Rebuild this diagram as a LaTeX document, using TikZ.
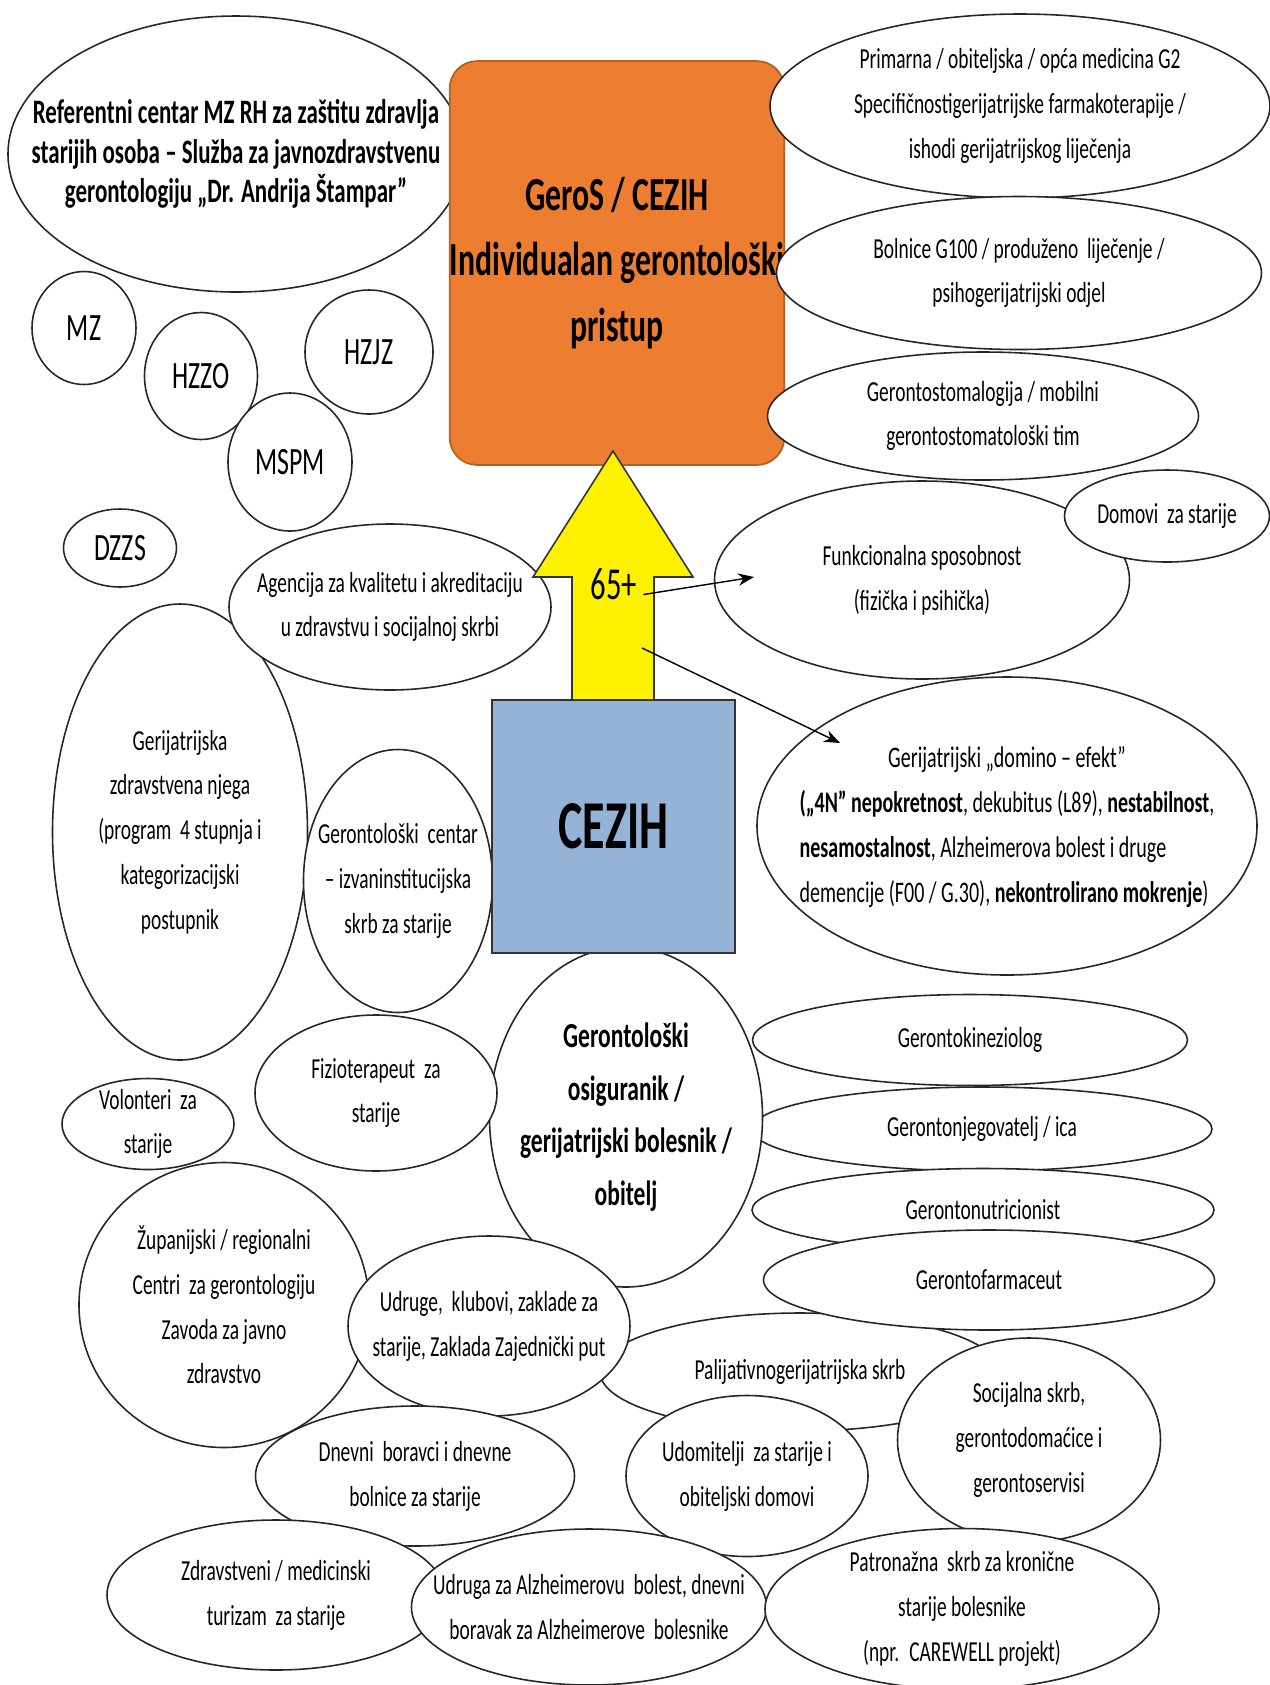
\documentclass[tikz,border=0pt]{standalone}
\usepackage{fontspec}
\setmainfont{Carlito}[FakeStretch=0.67]
\usepackage{tikz}
\usetikzlibrary{shapes.geometric, arrows.meta}

\definecolor{geroorange}{HTML}{ED7D31}
\definecolor{geroedge}{HTML}{B4601F}
\definecolor{cezihblue}{HTML}{95B3D7}

\newcommand{\bubfont}{\fontsize{16.5}{25.5}\selectfont}
\newcommand{\instfont}{\fontsize{22}{26}\selectfont}

\tikzstyle{bubble} = [ellipse, draw=black!85, line width=0.9pt, fill=white, inner sep=-5cm, align=center, font=\bubfont]
\tikzstyle{gerobox} = [rectangle, rounded corners=0.55cm, draw=geroedge, line width=1pt, fill=geroorange, inner sep=0pt, align=center, font=\fontsize{27}{37.5}\selectfont\bfseries]
\tikzstyle{cezihbox} = [rectangle, draw=black!80, line width=1pt, fill=cezihblue, inner sep=0pt, font=\fontsize{39}{46}\selectfont\bfseries]
\tikzstyle{uparrow} = [draw=black!80, line width=0.9pt, fill=yellow]
\tikzstyle{arrow} = [thick, -{Stealth[length=9pt, width=7pt]}]
\tikzset{sz/.style 2 args={minimum width=#1*0.02cm, minimum height=#2*0.02cm}}

\begin{document}
\begin{tikzpicture}[x=0.02cm, y=-0.02cm]
\useasboundingbox (0,0) rectangle (1270,1685);

% institutions, top left
\node (ref) [bubble, sz={456}{276}, font=\fontsize{19.5}{22.5}\selectfont\bfseries] at (236,154) {Referentni centar MZ RH za zaštitu zdravlja\\starijih osoba – Služba za javnozdravstvenu\\gerontologiju „Dr. Andrija Štampar”};
\node (mz) [bubble, sz={104}{113}, font=\instfont] at (84,328) {MZ};
\node (hzzo) [bubble, sz={113}{127}, font=\instfont] at (201,376) {HZZO};
\node (hzjz) [bubble, sz={128}{124}, font=\instfont] at (369,352) {HZJZ};
\node (mspm) [bubble, sz={124}{138}, font=\instfont] at (290,462) {MSPM};
\node (dzzs) [bubble, sz={113}{78}, font=\instfont] at (120,548) {DZZS};

% GeroS / CEZIH box
\node (geros) [gerobox, minimum width=6.5cm, minimum height=8.08cm] at (617,263) {GeroS / CEZIH\\Individualan gerontološki\\pristup};

% right column
\node (prim) [bubble, sz={500}{184}] at (1020,106) {Primarna / obiteljska / opća medicina G2\\Specifičnostigerijatrijske farmakoterapije /\\ishodi gerijatrijskog liječenja};
\node (bol) [bubble, sz={485}{153}] at (1019,273) {Bolnice G100 / produženo \ liječenje /\\psihogerijatrijski odjel};
\node (stom) [bubble, sz={431}{128}] at (983,416) {Gerontostomalogija / mobilni\\gerontostomatološki tim};
\node (fun) [bubble, sz={415}{198}] at (922,580) {Funkcionalna sposobnost\\(fizička i psihička)};
\node (dom) [bubble, sz={205}{92}] at (1167,516) {Domovi \ za starije};

% left middle
\node (gerij) [bubble, sz={255}{456}] at (180,832) {Gerijatrijska\\zdravstvena njega\\(program \ 4 stupnja i\\kategorizacijski\\postupnik};
\node (agen) [bubble, sz={322}{166}] at (390,607) {Agencija za kvalitetu i akreditaciju\\u zdravstvu i socijalnoj skrbi};
\node (centar) [bubble, sz={189}{263}] at (398,881) {Gerontološki \ centar\\– izvaninstitucijska\\skrb za starije};

% right middle
\node (domino) [bubble, sz={500}{298}, font=\fontsize{17}{25.5}\selectfont] at (1007,826) {\begin{tabular}{@{}l@{}}\multicolumn{1}{@{}c@{}}{Gerijatrijski „domino – efekt”}\\\textbf{(„4N” nepokretnost}, dekubitus (L89), \textbf{nestabilnost},\\\textbf{nesamostalnost}, Alzheimerova bolest i druge\\demencije (F00 / G.30), \textbf{nekontrolirano mokrenje})\end{tabular}};
\node (kin) [bubble, sz={435}{91}] at (970,1040) {Gerontokineziolog};
\node (njeg) [bubble, sz={460}{84}] at (982,1129) {Gerontonjegovatelj / ica};
\node (nutri) [bubble, sz={462}{83}] at (983,1210) {Gerontonutricionist};
\node (pal) [bubble, sz={400}{118}] at (800,1372) {Palijativnogerijatrijska skrb};
\node (farm) [bubble, sz={451}{100}] at (989,1280) {Gerontofarmaceut};

% bottom half
\node (osig) [bubble, sz={273}{340}, font=\fontsize{20}{30}\selectfont\bfseries] at (626,1117) {Gerontološki\\osiguranik /\\gerijatrijski bolesnik /\\obitelj};
\node (fizio) [bubble, sz={242}{156}] at (376,1093) {Fizioterapeut \ za\\starije};
\node (vol) [bubble, sz={172}{91}] at (148,1124) {Volonteri \ za\\starije};
\node (zup) [bubble, sz={290}{285}] at (224,1305) {Županijski / regionalni\\Centri \ za gerontologiju\\Zavoda za javno\\zdravstvo};
\node (udr) [bubble, sz={282}{180}] at (489,1326) {Udruge, \ klubovi, zaklade za\\starije, Zaklada Zajednički put};
\node (soc) [bubble, sz={263}{204}] at (1029,1440) {Socijalna skrb,\\gerontodomaćice i\\gerontoservisi};
\node (udom) [bubble, sz={242}{161}] at (747,1476) {Udomitelji \ za starije i\\obiteljski domovi};
\node (dnev) [bubble, sz={319}{140}] at (415,1476) {Dnevni \ boravci i dnevne\\bolnice za starije};
\node (zdr) [bubble, sz={338}{150}] at (276,1595) {Zdravstveni / medicinski\\turizam \ za starije};
\node (alz) [bubble, sz={355}{156}] at (589,1607) {Udruga za Alzheimerovu \ bolest, dnevni\\boravak za Alzheimerove \ bolesnike};
\node (pat) [bubble, sz={394}{161}] at (962,1609) {Patronažna \ skrb za kronične\\starije bolesnike\\(npr. \ CAREWELL projekt)};

% the 65+ arrow from CEZIH up to GeroS
\coordinate (tip) at (613,451);
\draw [uparrow] (tip) -- (693,577) -- (654,577) -- (654,701) -- (572,701) -- (572,577) -- (533,577) -- cycle;
\node (cezih) [cezihbox, minimum width=4.86cm, minimum height=5.06cm] at (613.5,826.5) {CEZIH};
\node (age) [font=\fontsize{26}{30}\selectfont] at (614,584) {65+};
\coordinate (funin) at (754,577);
\coordinate (agelow) at (642,648);
\coordinate (dominoin) at (840,743);

\draw [arrow] ([yshift=-6pt]age.east) -- (funin);
\draw [arrow] (agelow) -- (dominoin);
\end{tikzpicture}
\end{document}
